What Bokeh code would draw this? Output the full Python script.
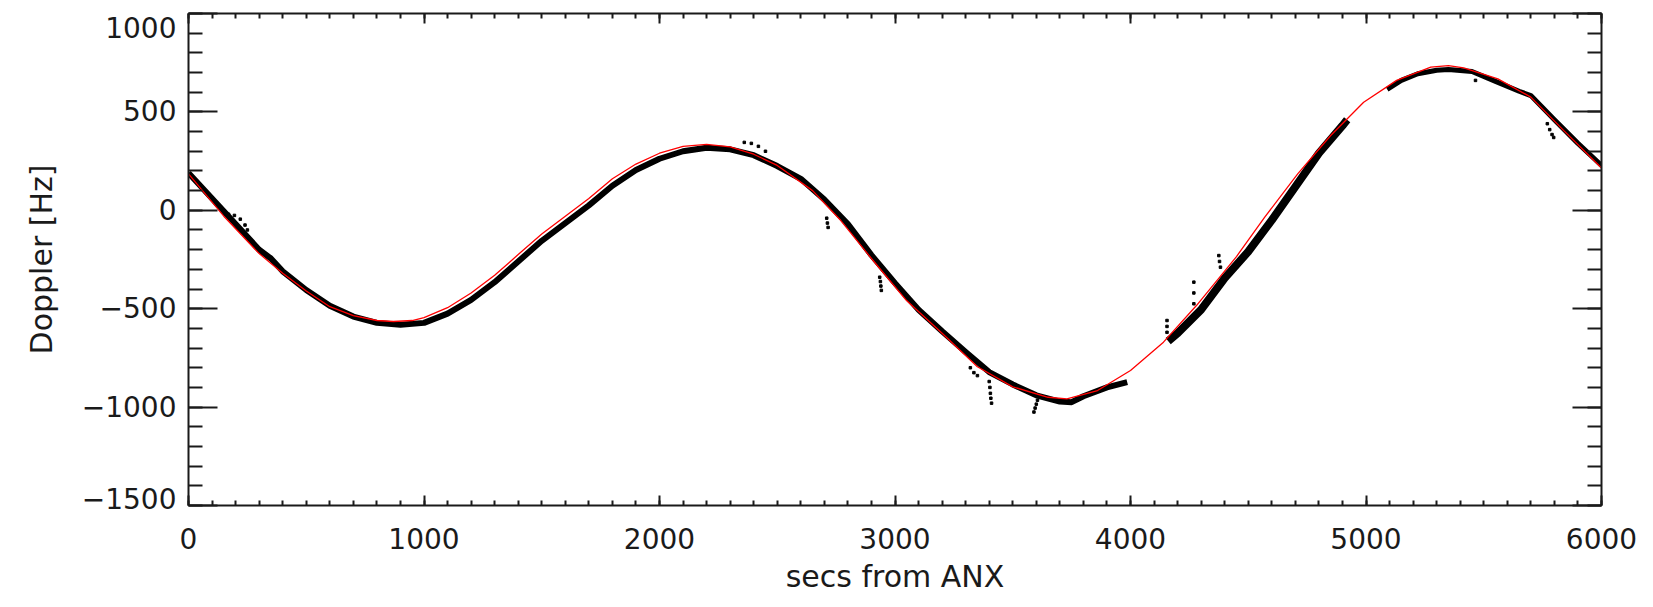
from bokeh.plotting import figure
from bokeh.models import Range1d, LinearAxis, FixedTicker, ColumnDataSource
from bokeh.embed import file_html
from bokeh.resources import INLINE

# ---- data ----
# red fitted Doppler curve (secs from ANX, Hz)
fit_t = [0, 150, 300, 400, 500, 600, 700, 800, 870, 950, 1000, 1100, 1200, 1300, 1400,
         1500, 1600, 1700, 1800, 1900, 2000, 2100, 2200, 2300, 2400, 2500, 2650, 2770,
         2900, 3050, 3200, 3350, 3500, 3650, 3730, 3860, 4000, 4140, 4280, 4450, 4570,
         4710, 4850, 4990, 5130, 5275, 5350, 5415, 5560, 5700, 5840, 6000]
fit_v = [185, -30, -220, -320, -410, -490, -535, -560, -565, -560, -545, -495, -420, -330, -225,
         -120, -30, 60, 160, 235, 290, 325, 335, 322, 285, 228, 100, -52,
         -245, -460, -625, -795, -897, -950, -958, -916, -814, -670, -484, -235, -35,
         185, 380, 549, 660, 727, 735, 724, 668, 575, 405, 215]

# black measured Doppler, three segments
seg1_t = [0, 100, 150, 200, 300, 350, 400, 500, 600, 700, 800, 900, 1000, 1100, 1200, 1300,
          1400, 1500, 1600, 1700, 1800, 1900, 2000, 2100, 2200, 2300, 2400, 2500, 2600, 2700,
          2800, 2900, 3000, 3100, 3200, 3300, 3400, 3500, 3600, 3700, 3750, 3800, 3900, 3986]
seg1_v = [190, 60, -5, -70, -200, -245, -310, -405, -485, -540, -572, -582, -572, -525, -455, -365,
          -260, -155, -65, 25, 125, 205, 262, 300, 318, 310, 280, 225, 160, 55,
          -70, -228, -370, -505, -615, -720, -822, -885, -940, -972, -975, -945, -900, -873]
seg2_t = [4160, 4200, 4300, 4400, 4500, 4600, 4700, 4800, 4900, 4920]
seg2_v = [-665, -625, -505, -345, -210, -50, 120, 290, 430, 460]
seg3_t = [5090, 5150, 5220, 5300, 5350, 5450, 5550, 5650, 5700, 5800, 5900, 6000]
seg3_v = [615, 660, 694, 712, 715, 705, 655, 605, 583, 460, 340, 228]

# isolated / dotted outlier estimates
out_t = [170, 195, 220, 240, 250, 2360, 2390, 2420, 2450, 2710, 2713, 2716,
         2935, 2938, 2940, 2942, 3320, 3335, 3350, 3400, 3403, 3405, 3407, 3410,
         3590, 3595, 3600, 3605, 4155, 4155, 4155, 4269, 4269, 4269, 4375, 4378, 4382,
         5465, 5770, 5780, 5790, 5797]
out_v = [-20, -26, -45, -75, -100, 345, 340, 325, 300, -40, -65, -87,
         -340, -362, -385, -407, -800, -825, -840, -870, -900, -930, -955, -980,
         -1025, -1005, -985, -965, -560, -590, -620, -365, -420, -475, -230, -260, -289,
         660, 440, 410, 385, 370]

x_ticks = [0, 1000, 2000, 3000, 4000, 5000, 6000]
x_tick_labels = ["0", "1000", "2000", "3000", "4000", "5000", "6000"]
y_ticks = [-1500, -1000, -500, 0, 500, 1000]
y_tick_labels = ["\u22121500", "\u22121000", "\u2212500", "0", "500", "1000"]
x_minor = list(range(0, 6001, 100))
y_minor = list(range(-1500, 1001, 100))

FONT = "DejaVu Sans"

p = figure(width=1653, height=607, x_range=Range1d(0, 6000), y_range=Range1d(-1500, 1000),
           x_axis_type=None, y_axis_type=None, output_backend="svg",
           toolbar_location=None)
p.min_border_left = 188
p.min_border_right = 52
p.min_border_top = 13
p.min_border_bottom = 102
p.outline_line_color = None
p.background_fill_color = "white"
p.border_fill_color = "white"
p.xgrid.visible = False
p.ygrid.visible = False

INK = "#1a1a1a"


def style(ax, ticks, minor, major_len, minor_len):
    ax.ticker = FixedTicker(ticks=ticks, minor_ticks=minor)
    ax.major_tick_in = major_len
    ax.major_tick_out = 0
    ax.minor_tick_in = minor_len
    ax.minor_tick_out = 0
    ax.axis_line_width = 2
    ax.axis_line_color = INK
    ax.major_tick_line_width = 2
    ax.minor_tick_line_width = 2
    ax.major_tick_line_color = INK
    ax.minor_tick_line_color = INK
    ax.major_label_text_font = FONT
    ax.major_label_text_color = INK
    ax.axis_label_text_font = FONT
    ax.axis_label_text_font_style = "normal"
    ax.axis_label_text_color = INK


xb = LinearAxis(axis_label="secs from ANX")
style(xb, x_ticks, x_minor, 10, 5)
xb.major_label_overrides = dict(zip(x_ticks, x_tick_labels))
xb.major_label_text_font_size = "28px"
xb.major_label_standoff = 22
xb.axis_label_text_font_size = "30px"
xb.axis_label_standoff = 7
p.add_layout(xb, "below")

# the outermost y labels sit inside the frame's extent in the reference
y_over = dict(zip(y_ticks, y_tick_labels))
y_over[y_ticks[0]] = y_over[y_ticks[0]] + "\n"
y_over[y_ticks[-1]] = "\n" + y_over[y_ticks[-1]]

yl = LinearAxis(axis_label="Doppler [Hz]")
style(yl, y_ticks, y_minor, 29, 14)
yl.major_label_overrides = y_over
yl.major_label_text_font_size = "28px"
yl.major_label_text_line_height = 0.35
yl.major_label_standoff = 12
yl.axis_label_text_font_size = "30px"
yl.axis_label_standoff = 20
p.add_layout(yl, "left")

xt = LinearAxis()
style(xt, x_ticks, x_minor, 10, 5)
xt.major_label_overrides = {t: "" for t in x_ticks}
xt.major_label_text_font_size = "0px"
xt.major_label_standoff = 0
p.add_layout(xt, "above")

yr = LinearAxis()
style(yr, y_ticks, y_minor, 29, 14)
yr.major_label_overrides = {t: "" for t in y_ticks}
yr.major_label_text_font_size = "0px"
yr.major_label_standoff = 0
p.add_layout(yr, "right")

# measured data (black)
meas = ColumnDataSource(dict(xs=[seg1_t, seg2_t, seg3_t], ys=[seg1_v, seg2_v, seg3_v],
                             w=[6, 8, 5]))
p.multi_line(xs="xs", ys="ys", line_width="w", source=meas,
             line_color="black", line_join="round")
p.scatter(out_t, out_v, marker="square", size=2.5, color="black")

# fit (red)
p.line(fit_t, fit_v, line_color="#ff0000", line_width=1.3)

open("out.html", "w").write(file_html(p, INLINE))
